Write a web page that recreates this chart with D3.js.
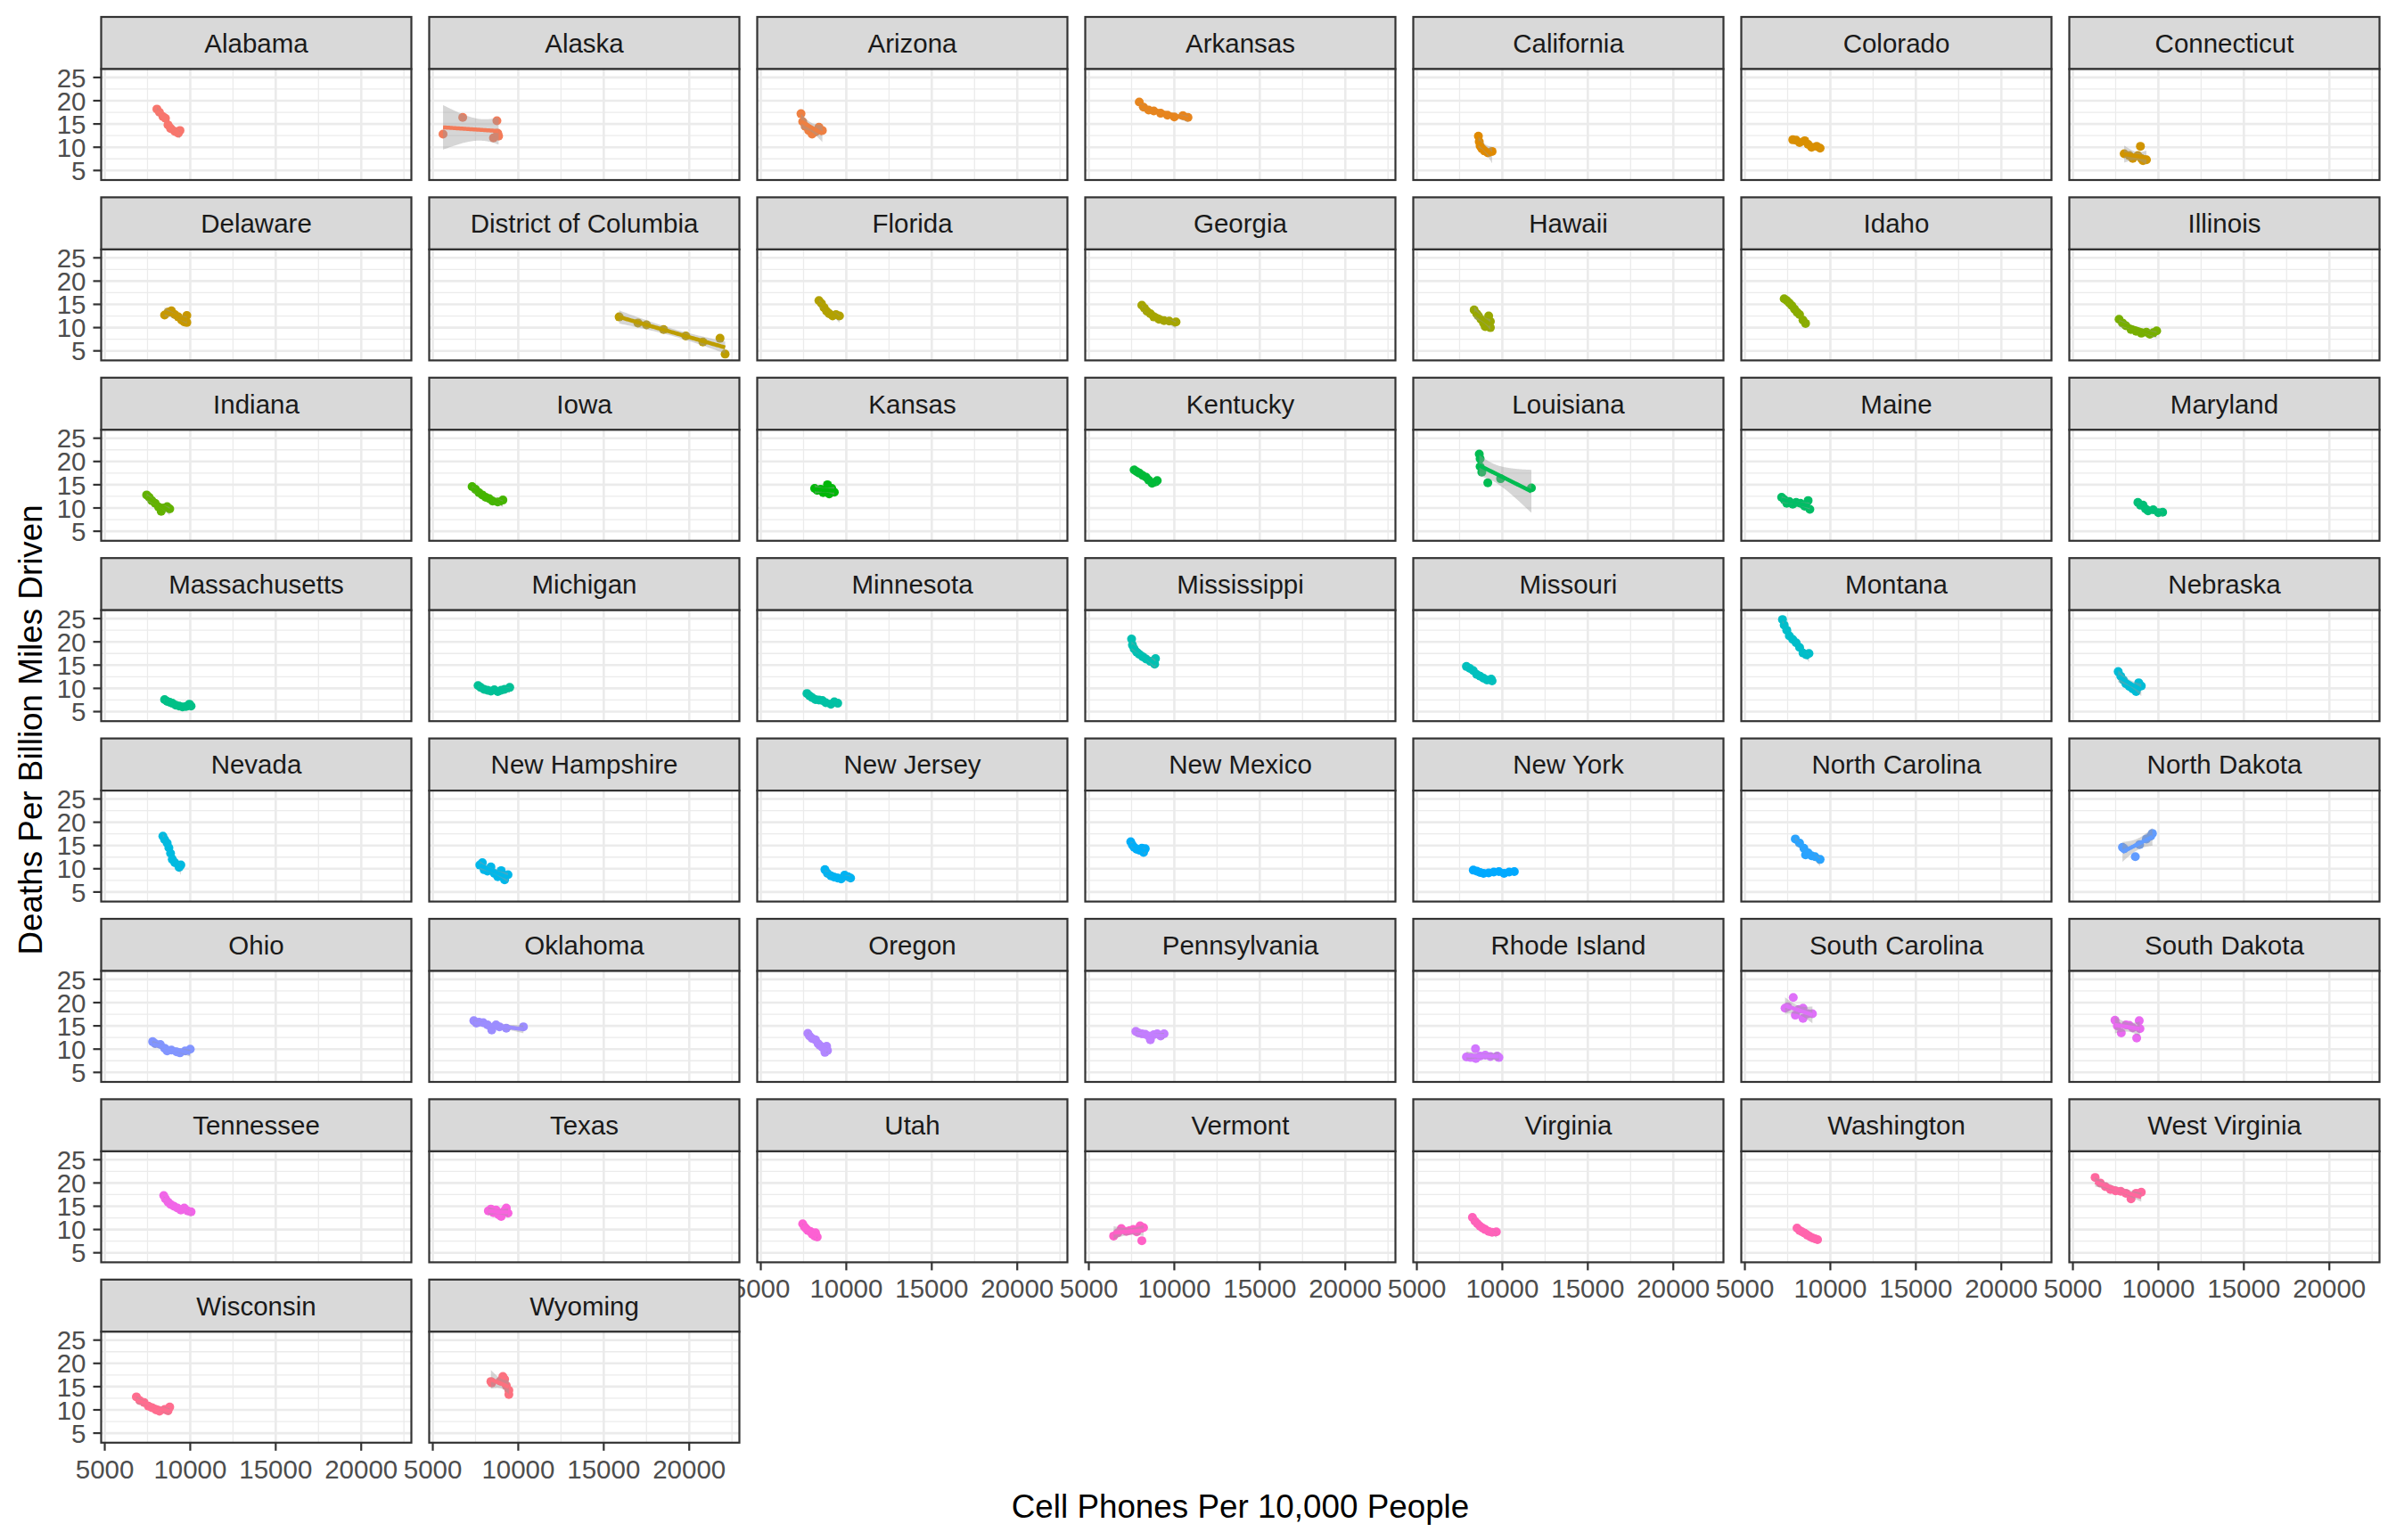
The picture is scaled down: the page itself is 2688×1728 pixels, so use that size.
<!DOCTYPE html>
<html><head><meta charset="utf-8">
<script src="https://cdn.jsdelivr.net/npm/d3@7"></script>
<style>body{margin:0;background:#fff}</style>
</head><body>
<svg id="chart" width="2688" height="1728" xmlns="http://www.w3.org/2000/svg"></svg>
<script>
const states = ["Alabama","Alaska","Arizona","Arkansas","California","Colorado","Connecticut",
"Delaware","District of Columbia","Florida","Georgia","Hawaii","Idaho","Illinois",
"Indiana","Iowa","Kansas","Kentucky","Louisiana","Maine","Maryland",
"Massachusetts","Michigan","Minnesota","Mississippi","Missouri","Montana","Nebraska",
"Nevada","New Hampshire","New Jersey","New Mexico","New York","North Carolina","North Dakota",
"Ohio","Oklahoma","Oregon","Pennsylvania","Rhode Island","South Carolina","South Dakota",
"Tennessee","Texas","Utah","Vermont","Virginia","Washington","West Virginia",
"Wisconsin","Wyoming"];

// Cell phones per 10,000 people, one array per state
const phones = [
[8050,8200,8400,8550,8700,8850,9100,9300,9400],
[5600,6750,8550,8750,8850,8800],
[7350,7450,7600,7800,8000,8200,8400,8600],
[7950,8200,8500,8800,9200,9600,10000,10500,10800],
[8600,8650,8700,8800,8950,9150,9400],
[7800,8000,8200,8500,8700,8900,9200,9400],
[8000,8300,8500,8800,8950,9000,9300,9100],
[8500,8700,8900,9100,9300,9500,9650,9800,9800],
[15900,17000,17500,18500,19800,20800,21800,22100],
[8400,8550,8700,8850,9000,9200,9400,9600],
[8100,8250,8400,8600,8800,9100,9400,9700,10100],
[8350,8500,8600,8750,8900,9000,9200,9300,9300],
[7300,7450,7600,7750,7900,8050,8200,8400,8550],
[7700,7900,8100,8400,8700,9000,9300,9500,9700,9900],
[7450,7600,7750,7950,8150,8300,8450,8650,8800],
[7300,7500,7700,7900,8100,8300,8500,8800,9100],
[8150,8300,8500,8650,8800,8900,9000,9150,9300],
[7650,7800,7950,8150,8350,8500,8700,8900,9000],
[8650,8700,8700,8800,9150,9900,11700],
[7150,7300,7450,7600,7800,8000,8250,8500,8700,8800],
[8800,8950,9100,9250,9400,9700,10000,10250],
[8500,8650,8800,8950,9150,9350,9550,9750,9950,10050],
[7650,7800,8000,8200,8400,8600,8800,9000,9200,9500],
[7700,7850,8000,8200,8400,8600,8800,9100,9300,9500],
[7500,7550,7650,7800,7950,8150,8350,8600,8850,8900],
[7900,8100,8300,8500,8700,8900,9100,9350,9400],
[7200,7300,7450,7600,7800,8000,8200,8400,8600,8750],
[7650,7800,7950,8100,8300,8500,8700,8850,9000],
[8400,8500,8650,8750,8850,8950,9100,9350,9450],
[7750,7900,8000,8200,8400,8600,8800,9000,9200,9400],
[8750,8900,9100,9300,9500,9700,9900,10100,10250],
[7450,7550,7650,7800,7950,8100,8300,8200],
[8300,8500,8700,8900,9200,9500,9800,10100,10400,10700],
[7950,8200,8450,8550,8700,8900,9100,9400],
[7900,8000,8650,8900,9300,9550,9650],
[7800,7950,8250,8500,8650,8900,9200,9400,9700,10000],
[7400,7550,7700,7950,8200,8450,8700,8900,9300,10300],
[7750,7850,8000,8200,8350,8450,8600,8850,8900,8750],
[7750,7900,8100,8300,8500,8600,8800,9000,9200,9400],
[7900,8150,8430,8450,8700,9000,9300,9700,9800],
[7350,7500,7830,7950,8150,8400,8400,8700,8950],
[7460,7600,7830,8100,8300,8500,8730,8880,8920],
[8450,8550,8700,8850,9050,9250,9450,9650,9850,10050],
[8250,8400,8550,8700,8850,9000,9150,9300,9400],
[7450,7550,7650,7750,7900,8000,8150,8300,8200],
[6450,6700,6900,7200,7400,7600,7800,8000,8100,8200],
[8250,8400,8550,8700,8850,9000,9200,9400,9650],
[8050,8200,8350,8500,8650,8800,8950,9100,9250],
[6300,6600,6900,7200,7500,7800,8100,8400,8700,9000],
[6850,7050,7300,7550,7750,8000,8200,8500,8800,8700],
[8400,8450,8950,9100,9200,9300,9450,9450]
];

// Deaths per billion miles driven, one array per state
const deaths = [
[18.2,17.5,16.6,16.2,14.8,14.0,13.4,13.0,13.6],
[12.8,16.4,12.0,15.7,12.4,13.0],
[17.2,15.5,14.5,13.6,12.8,13.3,14.3,13.6],
[19.7,18.6,18.0,17.8,17.3,16.9,16.5,16.8,16.4],
[12.4,11.2,10.3,9.7,9.2,8.8,9.1],
[11.6,11.5,11.0,11.4,10.6,10.0,10.2,9.8],
[8.6,8.2,7.6,8.2,10.2,7.6,7.3,7.1],
[12.7,13.3,13.6,12.8,12.3,11.6,11.2,12.6,11.1],
[12.3,11.0,10.6,9.6,8.2,6.9,7.7,4.3],
[15.8,15.2,14.3,13.5,13.0,12.5,12.8,12.5],
[14.8,14.2,13.5,13.0,12.3,11.8,11.5,11.4,11.2],
[13.8,13.0,12.5,11.8,11.0,10.2,12.5,10.0,11.3],
[16.2,15.8,15.3,14.7,14.0,13.3,12.8,11.6,10.9],
[11.8,11.0,10.4,9.6,9.2,8.8,9.0,8.6,8.9,9.3],
[12.8,12.3,11.6,11.0,10.2,9.3,10.0,10.3,9.8],
[14.6,14.0,13.3,12.8,12.3,12.0,11.5,11.3,11.7],
[14.2,13.8,14.0,13.3,13.8,15.0,13.0,14.2,13.4],
[18.2,17.8,17.5,17.0,16.6,16.0,15.3,15.6,15.9],
[21.6,20.6,18.9,17.7,15.4,16.3,14.3],
[12.3,11.8,11.0,11.4,10.8,11.2,11.0,10.4,11.6,9.7],
[11.2,10.6,10.6,9.8,9.4,9.6,9.0,9.1],
[7.6,7.2,7.0,6.8,6.4,6.2,6.0,6.1,6.6,6.2],
[10.6,10.2,9.8,9.6,9.4,9.7,9.3,9.6,9.8,10.2],
[8.9,8.4,8.0,7.6,7.5,7.4,6.9,6.6,7.1,6.8],
[20.6,19.3,18.5,17.8,17.3,16.8,16.3,15.8,15.2,16.4],
[14.7,14.3,13.8,13.0,12.6,12.2,11.8,12.0,11.6],
[24.8,23.6,22.5,21.3,20.5,19.8,18.8,17.6,17.2,17.5],
[13.6,12.6,11.8,11.0,10.4,9.9,9.3,11.2,10.5],
[17.0,16.3,15.5,14.5,13.3,12.0,11.3,10.3,10.8],
[10.8,11.3,9.8,9.5,10.4,9.0,8.3,9.6,7.6,8.7],
[9.8,9.0,8.5,8.2,8.0,7.8,8.6,8.3,8.0],
[15.8,15.1,14.6,14.2,14.0,14.4,14.3,13.5],
[9.7,9.5,9.2,9.0,9.1,9.3,9.4,9.0,9.3,9.4],
[16.4,15.5,14.4,13.0,13.4,12.8,12.6,12.0],
[14.6,14.3,12.6,15.2,16.4,17.0,17.6],
[11.6,11.2,11.0,10.2,9.6,9.8,9.4,9.2,9.6,10.0],
[16.1,15.6,15.8,15.7,15.2,14.1,15.2,14.8,14.5,14.8],
[13.4,12.8,12.3,12.0,11.2,10.8,10.4,10.6,9.7,9.3],
[13.8,13.5,13.3,13.2,12.8,12.0,13.1,13.3,12.8,13.3],
[8.3,8.2,10.1,8.0,8.5,8.7,8.4,8.5,8.2],
[18.8,19.1,21.1,17.3,18.5,18.8,16.6,17.6,17.6],
[16.2,15.0,13.5,15.2,15.1,14.6,12.4,16.1,14.4],
[17.3,16.6,15.9,15.4,15.0,14.6,14.2,14.6,14.0,13.8],
[14.0,14.4,13.6,14.2,13.2,12.8,13.9,14.6,13.5],
[11.2,10.6,10.2,9.8,9.6,9.0,8.6,8.4,9.3],
[8.6,9.3,10.2,9.6,9.8,10.0,9.5,10.8,7.6,10.4],
[12.6,11.8,11.2,10.7,10.3,10.0,9.6,9.4,9.5],
[10.3,9.8,9.5,9.2,8.8,8.5,8.2,8.0,7.8],
[21.2,20.0,19.2,18.6,18.3,18.2,17.8,16.6,17.8,18.0],
[12.8,12.0,11.6,10.8,10.5,10.0,9.7,10.1,10.6,9.8],
[16.1,15.8,16.2,17.2,16.6,15.2,14.2,13.3]
];

const xTicks = [5000, 10000, 15000, 20000];
const xMinor = [7500, 12500, 17500, 22500];
const yTicks = [5, 10, 15, 20, 25];
const yMinor = [7.5, 12.5, 17.5, 22.5];
const xDomain = [4790, 22934];
const yDomain = [2.95, 26.8];
const xTitle = "Cell Phones Per 10,000 People";
const yTitle = "Deaths Per Billion Miles Driven";

// ggplot2 hue palette (polar LUV -> sRGB)
function hclColor(h, c, l) {
  const Xn = 95.047, Yn = 100, Zn = 108.883;
  const den = Xn + 15 * Yn + 3 * Zn;
  const un = 4 * Xn / den, vn = 9 * Yn / den;
  const hr = h * Math.PI / 180;
  const U = c * Math.cos(hr), V = c * Math.sin(hr);
  const Y = Yn * Math.pow((l + 16) / 116, 3);
  const u = U / (13 * l) + un, v = V / (13 * l) + vn;
  const X = 9 * Y * u / (4 * v);
  const Z = -X / 3 - 5 * Y + 3 * Y / v;
  const g = t => t > 0.00304 ? 1.055 * Math.pow(t, 1 / 2.4) - 0.055 : 12.92 * t;
  const r = g((3.240479 * X - 1.537150 * Y - 0.498535 * Z) / 100);
  const gg = g((-0.969256 * X + 1.875992 * Y + 0.041556 * Z) / 100);
  const b = g((0.055648 * X - 0.204043 * Y + 1.057311 * Z) / 100);
  const cl = t => Math.round(255 * Math.max(0, Math.min(1, t)));
  return d3.rgb(cl(r), cl(gg), cl(b)).formatHex();
}
const nS = states.length;
const colors = states.map((s, i) => hclColor(15 + 360 * i / nS, 100, 65));

const tTable = [12.706,4.303,3.182,2.776,2.571,2.447,2.365,2.306,2.262,2.228,2.201,2.179,2.160,2.145,2.131,2.120,2.110,2.101,2.093,2.086];
function lmFit(xs, ys) {
  const n = xs.length;
  const mx = d3.mean(xs), my = d3.mean(ys);
  let sxx = 0, sxy = 0;
  for (let i = 0; i < n; i++) { sxx += (xs[i]-mx)**2; sxy += (xs[i]-mx)*(ys[i]-my); }
  const b = sxy / sxx, a = my - b * mx;
  let sse = 0;
  for (let i = 0; i < n; i++) sse += (ys[i] - a - b * xs[i]) ** 2;
  const s = Math.sqrt(sse / (n - 2));
  const t = tTable[Math.min(n - 2, tTable.length) - 1];
  const [x0, x1] = d3.extent(xs);
  return d3.range(80).map(k => {
    const x = x0 + (x1 - x0) * k / 79;
    const yhat = a + b * x;
    const se = s * Math.sqrt(1 / n + (x - mx) ** 2 / sxx);
    return {x, y: yhat, lo: yhat - t * se, hi: yhat + t * se};
  });
}

const svg = d3.select("#chart");
const font = "'Liberation Sans', Arial, Helvetica, sans-serif";
const nCol = 7;
const left0 = 113.5, colPitch = 368, panelW = 348;
const top0 = 19, rowPitch = 202.4, stripH = 58.5, panelH = 124.5;
const borderCol = "#333333";

const x = d3.scaleLinear().domain(xDomain).range([0, panelW]);
const y = d3.scaleLinear().domain(yDomain).range([panelH, 0]);

const defs = svg.append("defs");
defs.append("clipPath").attr("id", "pclip").append("rect")
  .attr("x", 0).attr("y", 0).attr("width", panelW).attr("height", panelH);

states.forEach((st, i) => {
  const col = i % nCol, row = Math.floor(i / nCol);
  const px = left0 + col * colPitch;
  const sy = top0 + row * rowPitch;
  const py = sy + stripH;
  const col_ = colors[i];

  const sg = svg.append("g").attr("transform", `translate(${px},${sy})`);
  sg.append("rect").attr("width", panelW).attr("height", stripH)
    .attr("fill", "#D9D9D9").attr("stroke", borderCol).attr("stroke-width", 2.2);
  sg.append("text").attr("x", panelW / 2).attr("y", stripH / 2)
    .attr("text-anchor", "middle").attr("dominant-baseline", "central")
    .attr("font-family", font).attr("font-size", 29.5).attr("fill", "#1A1A1A").text(st);

  const g = svg.append("g").attr("transform", `translate(${px},${py})`);
  g.append("rect").attr("width", panelW).attr("height", panelH).attr("fill", "#fff");
  const grid = g.append("g").attr("stroke", "#EBEBEB");
  grid.selectAll(".xm").data(xMinor.filter(v => v > xDomain[0] && v < xDomain[1])).join("line")
    .attr("x1", d => x(d)).attr("x2", d => x(d)).attr("y1", 0).attr("y2", panelH).attr("stroke-width", 1.3);
  grid.selectAll(".ym").data(yMinor).join("line").attr("class", "ym")
    .attr("y1", d => y(d)).attr("y2", d => y(d)).attr("x1", 0).attr("x2", panelW).attr("stroke-width", 1.3);
  grid.selectAll(".xM").data(xTicks).join("line").attr("class", "xM")
    .attr("x1", d => x(d)).attr("x2", d => x(d)).attr("y1", 0).attr("y2", panelH).attr("stroke-width", 2.6);
  grid.selectAll(".yM").data(yTicks).join("line").attr("class", "yM")
    .attr("y1", d => y(d)).attr("y2", d => y(d)).attr("x1", 0).attr("x2", panelW).attr("stroke-width", 2.6);

  const data = phones[i].map((p, k) => ({p, d: deaths[i][k]}));
  const inner = g.append("g").attr("clip-path", "url(#pclip)");
  inner.selectAll("circle").data(data).join("circle")
    .attr("cx", d => x(d.p)).attr("cy", d => y(d.d)).attr("r", 5).attr("fill", col_);
  const fit = lmFit(phones[i], deaths[i]);
  inner.append("path").datum(fit)
    .attr("d", d3.area().x(d => x(d.x)).y0(d => y(d.lo)).y1(d => y(d.hi)))
    .attr("fill", "#999999").attr("fill-opacity", 0.4);
  inner.append("path").datum(fit)
    .attr("d", d3.line().x(d => x(d.x)).y(d => y(d.y)))
    .attr("fill", "none").attr("stroke", col_).attr("stroke-width", 4.5);

  g.append("rect").attr("width", panelW).attr("height", panelH)
    .attr("fill", "none").attr("stroke", borderCol).attr("stroke-width", 2.2);

  if (col === 0) {
    const ya = g.append("g");
    ya.selectAll("line").data(yTicks).join("line")
      .attr("x1", -9).attr("x2", 0).attr("y1", d => y(d)).attr("y2", d => y(d))
      .attr("stroke", borderCol).attr("stroke-width", 2.2);
    ya.selectAll("text").data(yTicks).join("text")
      .attr("x", -17).attr("y", d => y(d)).attr("dy", "0.36em")
      .attr("text-anchor", "end").attr("font-family", font).attr("font-size", 29.5)
      .attr("fill", "#4D4D4D").text(d => d);
  }
  if (i + nCol >= nS) {
    const xa = g.append("g").attr("transform", `translate(0,${panelH})`);
    xa.selectAll("line").data(xTicks).join("line")
      .attr("x1", d => x(d)).attr("x2", d => x(d)).attr("y1", 0).attr("y2", 9)
      .attr("stroke", borderCol).attr("stroke-width", 2.2);
    xa.selectAll("text").data(xTicks).join("text")
      .attr("x", d => x(d)).attr("y", 40)
      .attr("text-anchor", "middle").attr("font-family", font).attr("font-size", 29.5)
      .attr("fill", "#4D4D4D").text(d => d);
  }
});

const gridLeft = left0, gridRight = left0 + 6 * colPitch + panelW;
const gridBottom = top0 + 7 * rowPitch + stripH + panelH;
svg.append("text").attr("x", (gridLeft + gridRight) / 2).attr("y", 1690)
  .attr("text-anchor", "middle").attr("dominant-baseline", "central")
  .attr("font-family", font).attr("font-size", 36.8).attr("fill", "#000").text(xTitle);
svg.append("text").attr("transform", `translate(34,${(top0 + gridBottom) / 2}) rotate(-90)`)
  .attr("text-anchor", "middle").attr("dominant-baseline", "central")
  .attr("font-family", font).attr("font-size", 36.8).attr("fill", "#000").text(yTitle);
</script>
</body></html>
